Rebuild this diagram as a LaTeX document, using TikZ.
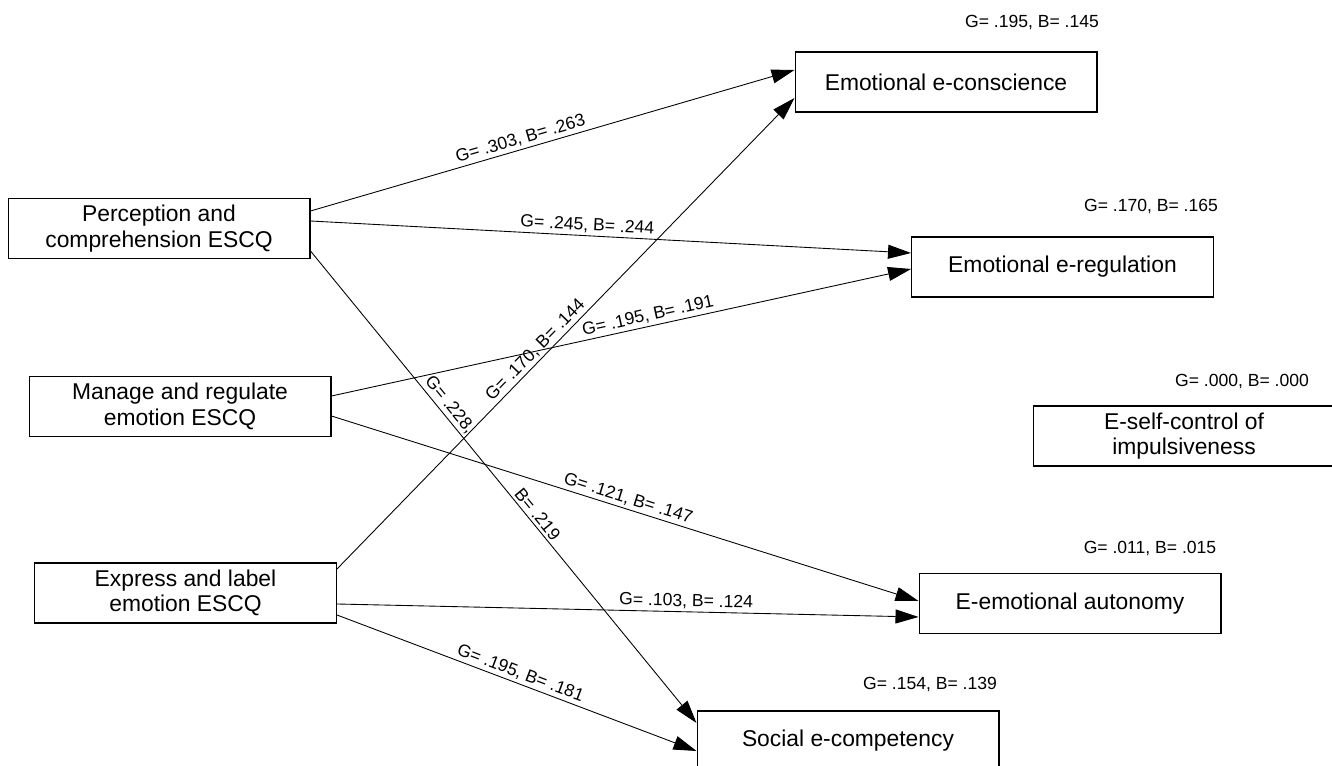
\documentclass[tikz,border=0pt]{standalone}
\usepackage{fontspec}
\setmainfont{Liberation Sans}
\usetikzlibrary{arrows.meta}
\tikzset{>={Triangle[length=4.6mm,width=2.8mm]}}
\tikzset{box/.style={draw, line width=.6pt, minimum width=6.04cm, minimum height=1.2cm,
    align=center, inner sep=0pt, font=\fontsize{13}{14.5}\selectfont}}
\tikzset{coef/.style={font=\fontsize{10}{12}\selectfont, sloped, above, inner sep=1.5pt}}
\tikzset{rsq/.style={font=\fontsize{10}{12}\selectfont}}

\begin{document}
\begin{tikzpicture}[x=.02cm, y=-.02cm]
  \useasboundingbox (0,0) rectangle (1332,766);
  % predictors
  \node[box] (perc) at (159,228.5) {Perception and\\comprehension ESCQ};
  \node[box] (manage) at (180,406.5) {Manage and regulate\\emotion ESCQ};
  \node[box] (express) at (185.5,593) {Express and label\\emotion ESCQ};
  % outcomes
  \node[box] (consc) at (946,82) {Emotional e-conscience};
  \node[box] (regul) at (1062.5,267) {Emotional e-regulation};
  \node[box] (selfctrl) at (1184,436) {E-self-control of\\impulsiveness};
  \node[box] (auton) at (1070,603.5) {E-emotional autonomy};
  \node[box] (social) at (848,741) {Social e-competency};
  % explained variance
  \node[rsq] (r2consc) at (1032,22) {G= .195, B= .145};
  \node[rsq] (r2regul) at (1151,206) {G= .170, B= .165};
  \node[rsq] (r2selfctrl) at (1242,381) {G= .000, B= .000};
  \node[rsq] (r2auton) at (1150,548) {G= .011, B= .015};
  \node[rsq] (r2social) at (930,684) {G= .154, B= .139};
  % paths
  \draw[->, line width=.5pt] ([yshift=3.5mm]perc.east) -- node[coef, pos=.44] {G= .303, B= .263} ([yshift=2.4mm]consc.west);
  \draw[->, line width=.5pt] ([yshift=1.5mm]perc.east) -- node[coef, pos=.46] {G= .245, B= .244} ([yshift=2.8mm]regul.west);
  \draw[->, line width=.5pt] ([yshift=-4.5mm]perc.east) -- node[coef, pos=.34] {G= .228,} node[coef, pos=.57] {B= .219} ([yshift=3.6mm]social.west);
  \draw[->, line width=.5pt] ([yshift=2.1mm]manage.east) -- node[coef, pos=.55] {G= .195, B= .191} ([yshift=-.4mm]regul.west);
  \draw[->, line width=.5pt] ([yshift=-1.9mm]manage.east) -- node[coef, pos=.5] {G= .121, B= .147} ([yshift=.5mm]auton.west);
  \draw[->, line width=.5pt] ([yshift=4.8mm]express.east) -- node[coef, pos=.45] {G= .170, B= .144} ([yshift=-3.2mm]consc.west);
  \draw[->, line width=.5pt] ([yshift=-2.2mm]express.east) -- node[coef, pos=.6] {G= .103, B= .124} ([yshift=-2.7mm]auton.west);
  \draw[->, line width=.5pt] ([yshift=-4.4mm]express.east) -- node[coef, pos=.5] {G= .195, B= .181} ([yshift=-2mm]social.west);
\end{tikzpicture}
\end{document}
